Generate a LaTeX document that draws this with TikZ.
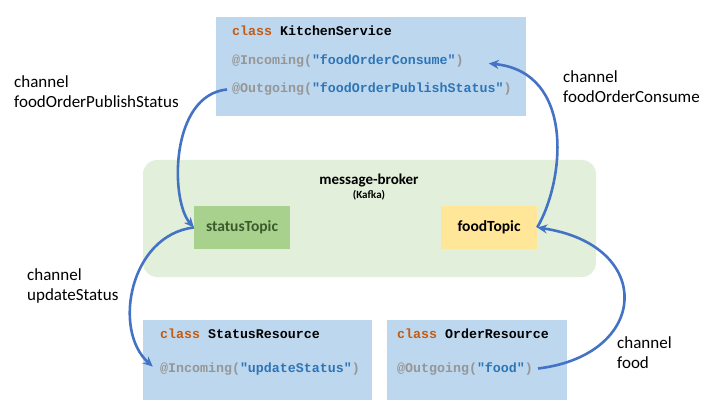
\documentclass[tikz,border=0pt]{standalone}
\usepackage{fontspec}
\setmainfont{Carlito}
\newfontfamily\codefont{Liberation Mono}
\usetikzlibrary{arrows.meta}
\definecolor{clsblue}{HTML}{BDD7EE}
\definecolor{brokergreen}{HTML}{E2EFDA}
\definecolor{topicgreen}{HTML}{A9D18E}
\definecolor{topicyellow}{HTML}{FFE699}
\definecolor{flowblue}{HTML}{4472C4}
\definecolor{kwcol}{HTML}{C55A11}
\definecolor{anncol}{HTML}{969696}
\definecolor{strcol}{HTML}{2E75B6}
\definecolor{statustext}{HTML}{3B5A2B}
\newcommand{\kw}{\textcolor{kwcol}{class}}
\newcommand{\ann}[2]{\textcolor{anncol}{@#1(}\textcolor{strcol}{"#2"}\textcolor{anncol}{)}}

\begin{document}
\begin{tikzpicture}[x=1pt,y=-1pt,
    cls/.style={fill=clsblue,inner sep=0pt},
    ln/.style={anchor=base west,inner xsep=5pt,inner ysep=2pt,font=\codefont\bfseries\fontsize{13.3}{16}\selectfont},
    topic/.style={minimum width=96pt,minimum height=43pt,inner sep=0pt,font=\bfseries\fontsize{15.5}{18}\selectfont},
    chan/.style={anchor=base west,align=left,inner sep=0pt,font=\fontsize{17}{20}\selectfont},
    flow/.style={draw=flowblue,line width=2.6pt,-{Stealth[length=10pt,width=9pt]}}]
  \useasboundingbox (0,0) rectangle (720,414);

  \node[fill=brokergreen,rounded corners=14pt,minimum width=453pt,minimum height=117pt,inner sep=0pt] (broker) at (369.5,218.5) {};
  \node[anchor=base,font=\bfseries\fontsize{15}{18}\selectfont] (bname) at (369,185) {message-broker};
  \node[anchor=base,font=\bfseries\fontsize{11}{13}\selectfont] (bkafka) at (369,199) {(Kafka)};
  \node[topic,fill=topicgreen,text=statustext] (status) at (242,227.5) {statusTopic};
  \node[topic,fill=topicyellow] (food) at (489,227.5) {foodTopic};

  \node[cls,minimum width=310pt,minimum height=99pt] (ks) at (371,66.5) {};
  \node[ln] (kstitle) at (227,36) {\kw\ KitchenService};
  \node[ln] (ksin) at (227,65) {\ann{Incoming}{foodOrderConsume}};
  \node[ln] (ksout) at (227,93) {\ann{Outgoing}{foodOrderPublishStatus}};

  \node[cls,minimum width=229pt,minimum height=80pt] (sr) at (257.5,360) {};
  \node[ln] (srtitle) at (155,338) {\kw\ StatusResource};
  \node[ln] (srin) at (155,372) {\ann{Incoming}{updateStatus}};

  \node[cls,minimum width=180pt,minimum height=80pt] (or) at (477,360) {};
  \node[ln] (ortitle) at (392,338) {\kw\ OrderResource};
  \node[ln] (orout) at (392,372) {\ann{Outgoing}{food}};

  \node[chan] (c1) at (14,108) {channel\\foodOrderPublishStatus};
  \node[chan] (c2) at (563,103) {channel\\foodOrderConsume};
  \node[chan] (c3) at (27,300) {channel\\updateStatus};
  \node[chan] (c4) at (617,368) {channel\\food};

  \draw[flow] (ksout.west) .. controls (170,95) and (170,200) .. (status.west);
  \draw[flow,shorten >=20pt] (food.east) .. controls (565,180) and (575,72) .. (ksin.east);
  \draw[flow,shorten >=3pt] (status.west) .. controls (130,235) and (112,330) .. (srin.west);
  \draw[flow] (orout.east) .. controls (650,355) and (655,245) .. (food.east);
\end{tikzpicture}
\end{document}
